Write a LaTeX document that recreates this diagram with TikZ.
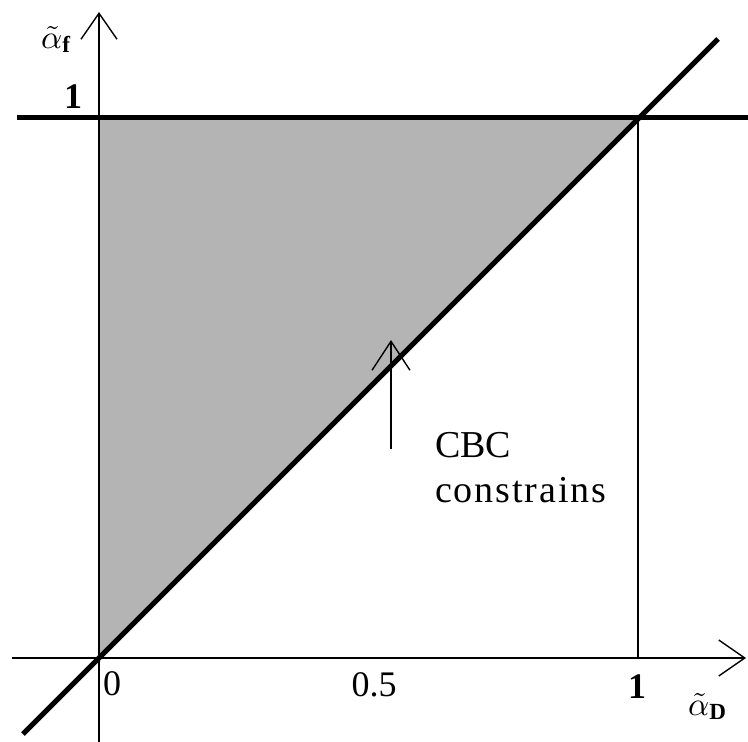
\documentclass[tikz,border=0pt]{standalone}
\usepackage{fontspec}
\setmainfont{Liberation Serif}
\usetikzlibrary{arrows.meta}
\begin{document}
\begin{tikzpicture}[x=1pt,y=-1pt,
  thickline/.style={line width=5pt},
  thinline/.style={line width=2.6pt},
  axisarrow/.style={line width=2.6pt,-{Straight Barb[length=26pt,width=36pt,line width=1.4pt]}},
  digit/.style={font=\fontsize{36}{40}\selectfont, inner sep=0pt},
  mlabel/.style={inner sep=0pt, anchor=base west},
  txt/.style={font=\fontsize{38}{42}\selectfont, inner sep=0pt, anchor=base west}]
\useasboundingbox (0,0) rectangle (748,742);
% key points
\coordinate (O) at (99,658);
\coordinate (X1) at (638,658);
\coordinate (Y1) at (99,117);
\coordinate (P11) at (638,117);
\coordinate (xstart) at (12,658);
\coordinate (xend) at (746,658);
\coordinate (ystart) at (99,742);
\coordinate (yend) at (99,12);
\coordinate (tstart) at (17,117);
\coordinate (tend) at (748,117);
\coordinate (dstart) at (23,734);
\coordinate (dend) at (718,39);
\coordinate (cbcbot) at (391,449);
\coordinate (cbctop) at (391,340);
% shaded region
\fill[fill={rgb,255:red,180;green,180;blue,180}] (O) -- (Y1) -- (P11) -- cycle;
% axes
\draw[axisarrow] (xstart) -- (xend);
\draw[axisarrow] (ystart) -- (yend);
% thin vertical at x=1
\draw[thinline] (X1) -- (P11);
% thick lines
\draw[thickline] (tstart) -- (tend);
\draw[thickline] (dstart) -- (dend);
% CBC arrow
\draw[line width=2.6pt,-{Straight Barb[length=29pt,width=38pt,line width=1.4pt]}] (cbcbot) -- (cbctop);
% labels
\node[digit, font=\fontsize{36}{40}\selectfont\bfseries] (ly1) at (73,97) {1};
\node[digit] (l0) at (112,684) {0};
\node[digit] (l05) at (374,685) {0.5};
\node[digit, font=\fontsize{36}{40}\selectfont\bfseries] (lx1) at (637,687) {1};
\node[mlabel] (aD) at (688,715) {\scalebox{3.3}{$\tilde{\alpha}_{\mathbf{D}}$}};
\node[mlabel] (af) at (41,48) {\scalebox{3.3}{$\tilde{\alpha}_{\mathbf{f}}$}};
\node[txt] (cbc) at (435,457) {CBC};
\node[txt] (cons) at (435,502) {\addfontfeature{LetterSpace=5}constrains};
\end{tikzpicture}
\end{document}
